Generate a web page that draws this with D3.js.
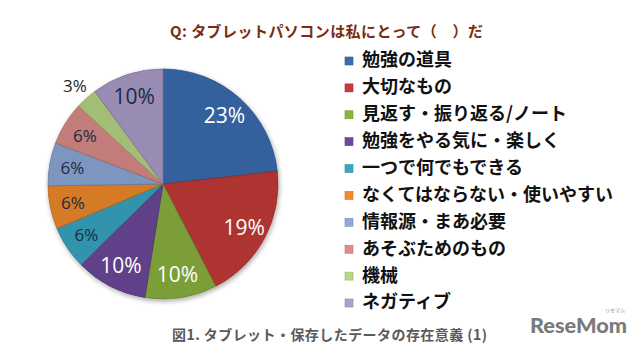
<!DOCTYPE html>
<html>
<head>
<meta charset="utf-8">
<script src="https://cdn.jsdelivr.net/npm/d3@7"></script>
<style>
  html, body { margin: 0; padding: 0; background: #fff; }
  svg { display: block; }
</style>
</head>
<body>
<svg id="chart" width="640" height="349"></svg>
<script>
// Answers to "タブレットパソコンは私にとって（　）だ", share of responses in %
const categories = [
  "勉強の道具",
  "大切なもの",
  "見返す・振り返る/ノート",
  "勉強をやる気に・楽しく",
  "一つで何でもできる",
  "なくてはならない・使いやすい",
  "情報源・まあ必要",
  "あそぶためのもの",
  "機械",
  "ネガティブ"
];
const values = [23, 19, 10, 10, 6, 6, 6, 6, 3, 10];
const colors = [
  "#3b6db4", "#c63b37", "#8db33f", "#6d4a9b", "#38a8c3",
  "#f28b2a", "#8eaad9", "#dc8e8c", "#b9d787", "#ae9fcd"
];
const labelColors = [
  "#ffffff", "#ffffff", "#ffffff", "#ffffff", "#1c2a48",
  "#1c2a48", "#1c2a48", "#1c2a48", "#1f1f1f", "#1c2a48"
];
const title = "Q: タブレットパソコンは私にとって（　）だ";
const caption = "図1. タブレット・保存したデータの存在意義 (1)";

const svg = d3.select("#chart");
const jp = "'Noto Sans CJK JP', 'Noto Sans', sans-serif";

// Title
svg.append("text")
  .attr("x", 170).attr("y", 37)
  .attr("font-family", jp)
  .attr("font-size", 15)
  .attr("font-weight", "bold")
  .attr("fill", "#7b2b12")
  .attr("textLength", 313)
  .attr("lengthAdjust", "spacing")
  .text(title);

// Pie
const cx = 163, cy = 184, R = 115;
const data = categories.map((c, i) => ({ name: c, value: values[i], color: colors[i], lc: labelColors[i] }));
const pie = d3.pie().value(d => d.value).sort(null);
const arcs = pie(data);
const arc = d3.arc().innerRadius(0).outerRadius(R);

const defs = svg.append("defs");
// soft shadow under the pie
const f = defs.append("filter").attr("id", "shadow").attr("x", "-20%").attr("y", "-20%").attr("width", "140%").attr("height", "140%");
f.append("feGaussianBlur").attr("in", "SourceAlpha").attr("stdDeviation", 2.5);
f.append("feOffset").attr("dx", 1).attr("dy", 2).attr("result", "b");
f.append("feComponentTransfer").append("feFuncA").attr("type", "linear").attr("slope", 0.35);
const m = f.append("feMerge");
m.append("feMergeNode");
m.append("feMergeNode").attr("in", "SourceGraphic");

// rim bevel shading
const rg = defs.append("radialGradient").attr("id", "bevel")
  .attr("gradientUnits", "userSpaceOnUse").attr("cx", cx).attr("cy", cy).attr("r", R);
rg.append("stop").attr("offset", "0%").attr("stop-color", "#fff").attr("stop-opacity", 0);
rg.append("stop").attr("offset", "88%").attr("stop-color", "#fff").attr("stop-opacity", 0.0);
rg.append("stop").attr("offset", "95%").attr("stop-color", "#fff").attr("stop-opacity", 0.18);
rg.append("stop").attr("offset", "100%").attr("stop-color", "#000").attr("stop-opacity", 0.12);

const g = svg.append("g").attr("transform", `translate(${cx},${cy})`);
const slices = g.append("g").attr("filter", "url(#shadow)");
slices.selectAll("path.slice")
  .data(arcs)
  .join("path")
  .attr("class", "slice")
  .attr("d", arc)
  .attr("fill", d => d.data.color)
  .attr("stroke", d => d3.color(d.data.color).darker(0.6))
  .attr("stroke-width", 0.8)
  .attr("stroke-linejoin", "round");

g.append("g").attr("transform", `translate(${-cx},${-cy})`)
  .selectAll("path")
  .data(arcs)
  .join("path")
  .attr("transform", `translate(${cx},${cy})`)
  .attr("d", arc)
  .attr("fill", "url(#bevel)");

// Percentage labels: inside the slice, small slices outside the rim
const inner = d3.arc().innerRadius(R * 0.8).outerRadius(R * 0.8);
const outer = d3.arc().innerRadius(R + 17).outerRadius(R + 17);
g.selectAll("text.pct")
  .data(arcs)
  .join("text")
  .attr("class", "pct")
  .attr("transform", d => {
    const p = (d.data.value < 5 ? outer : inner).centroid(d);
    return `translate(${p[0]},${p[1]})`;
  })
  .attr("text-anchor", "middle")
  .attr("dy", "0.36em")
  .attr("font-family", "'Open Sans', 'DejaVu Sans', sans-serif")
  .attr("font-size", d => d.data.value >= 10 ? 21 : 17)
  .attr("fill", d => d.data.lc)
  .text(d => d.data.value + "%");

// Legend
const ly = d3.scalePoint().domain(categories).range([60, 302]);
const leg = svg.append("g");
const items = leg.selectAll("g").data(data).join("g")
  .attr("transform", d => `translate(345,${ly(d.name)})`);
items.append("rect")
  .attr("x", 0).attr("y", -3).attr("width", 8).attr("height", 8)
  .attr("fill", d => d.color)
  .attr("stroke", d => d3.color(d.color).darker(0.5))
  .attr("stroke-width", 0.6);
items.append("text")
  .attr("x", 17).attr("y", 0).attr("dy", "0.36em")
  .attr("font-family", jp)
  .attr("font-size", 18)
  .attr("font-weight", "bold")
  .attr("fill", "#111")
  .text(d => d.name);

// Caption
svg.append("text")
  .attr("x", 172).attr("y", 340)
  .attr("font-family", jp)
  .attr("font-size", 14)
  .attr("font-weight", "bold")
  .attr("fill", "#5a5a5a")
  .attr("textLength", 315)
  .attr("lengthAdjust", "spacing")
  .text(caption);

// Site mark
svg.append("text")
  .attr("x", 530).attr("y", 333)
  .attr("font-family", "'Lato', 'Roboto', sans-serif")
  .attr("font-size", 20)
  .attr("font-weight", "900")
  .attr("fill", "#7a7a7a")
  .attr("textLength", 97)
  .attr("lengthAdjust", "spacingAndGlyphs")
  .text("ReseMom");
svg.append("text")
  .attr("x", 615).attr("y", 312)
  .attr("text-anchor", "middle")
  .attr("font-family", jp)
  .attr("font-size", 5)
  .attr("fill", "#8a8a8a")
  .text("リセマム");
</script>
</body>
</html>
